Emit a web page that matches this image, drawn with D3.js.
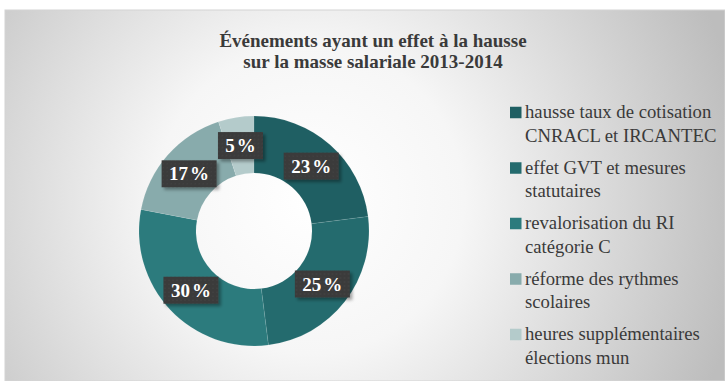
<!DOCTYPE html>
<html>
<head>
<meta charset="utf-8">
<script src="https://cdn.jsdelivr.net/npm/d3@7"></script>
<style>
  html, body { margin: 0; padding: 0; background: #ffffff; }
  svg { display: block; }
  .serif { font-family: "Liberation Serif"; }
</style>
</head>
<body>
<svg id="chart" width="725" height="381"></svg>
<script>
// Chart data
const categories = [
  ["hausse taux de cotisation", "CNRACL et IRCANTEC"],
  ["effet GVT et mesures", "statutaires"],
  ["revalorisation du RI", "catégorie C"],
  ["réforme des rythmes", "scolaires"],
  ["heures supplémentaires", "élections mun"]
];
const shares = [23, 25, 30, 17, 5];
const sliceColors = ["#1f5f63", "#246b6e", "#2c7b7d", "#88abac", "#b4cbcb"];
const titleLines = ["Événements ayant un effet à la hausse", "sur la masse salariale 2013-2014"];

const svg = d3.select("#chart");
const W = 725, H = 381;

// Panel background with soft radial shading
const defs = svg.append("defs");
const grad = defs.append("radialGradient")
  .attr("id", "panelGrad")
  .attr("gradientUnits", "userSpaceOnUse")
  .attr("cx", 310).attr("cy", 200).attr("r", 440);
grad.append("stop").attr("offset", "0%").attr("stop-color", "#ffffff");
grad.append("stop").attr("offset", "35%").attr("stop-color", "#f6f6f6");
grad.append("stop").attr("offset", "100%").attr("stop-color", "#bdbdbd");

const shadow = defs.append("filter").attr("id", "boxShadow")
  .attr("x", "-20%").attr("y", "-20%").attr("width", "150%").attr("height", "160%");
shadow.append("feDropShadow").attr("dx", 2.5).attr("dy", 2.5).attr("stdDeviation", 1.5)
  .attr("flood-color", "#000").attr("flood-opacity", 0.35);

const dots = defs.append("pattern").attr("id", "dots")
  .attr("width", 4).attr("height", 4).attr("patternUnits", "userSpaceOnUse");
dots.append("rect").attr("width", 4).attr("height", 4).attr("fill", "#3a3a3a");
dots.append("circle").attr("cx", 2).attr("cy", 2).attr("r", 0.7).attr("fill", "#484848");

svg.append("rect")
  .attr("x", 5).attr("y", 10).attr("width", W - 5).attr("height", H - 10)
  .attr("fill", "url(#panelGrad)")
  .attr("stroke", "#d4d4d4").attr("stroke-width", 1);

// Title
svg.append("text")
  .attr("class", "serif")
  .attr("text-anchor", "middle")
  .attr("font-weight", "bold")
  .attr("font-size", 19)
  .attr("fill", "#3a3a3a")
  .selectAll("tspan").data(titleLines).join("tspan")
  .attr("x", 373).attr("y", (d, i) => 46.5 + i * 21.7)
  .text(d => d);

// Donut
const cx = 254, cy = 231, rOuter = 115, rInner = 58;
const pie = d3.pie().sort(null).value(d => d);
const arcs = pie(shares);
const arc = d3.arc().innerRadius(rInner).outerRadius(rOuter);
const color = d3.scaleOrdinal().domain(d3.range(shares.length)).range(sliceColors);

const g = svg.append("g").attr("transform", `translate(${cx},${cy})`);
g.selectAll("path.slice").data(arcs).join("path")
  .attr("class", "slice")
  .attr("d", arc)
  .attr("fill", (d, i) => color(i))
  .attr("stroke", "rgba(255,255,255,0.15)")
  .attr("stroke-width", 0.6);

// Value labels on dark boxes at each slice centroid
const labels = g.selectAll("g.lbl").data(arcs).join("g")
  .attr("class", "lbl")
  .attr("transform", d => `translate(${arc.centroid(d)})`);
labels.append("rect")
  .attr("x", d => d.data < 10 ? -22.5 : -27.5)
  .attr("y", -13.5)
  .attr("width", d => d.data < 10 ? 45 : 55)
  .attr("height", 27)
  .attr("fill", "url(#dots)")
  .attr("filter", "url(#boxShadow)");
const lblText = labels.append("text")
  .attr("class", "serif")
  .attr("text-anchor", "middle")
  .attr("dy", "0.35em")
  .attr("font-weight", "bold")
  .attr("font-size", 19)
  .attr("fill", "#ffffff");
lblText.append("tspan").text(d => d.data);
lblText.append("tspan").attr("dx", 2).text("%");

// Legend
const legendX = 510, legendY = 112.5, itemGap = 55.5, lineGap = 23.3, sw = 11.5;
const legend = svg.append("g");
const items = legend.selectAll("g.item").data(categories).join("g")
  .attr("class", "item")
  .attr("transform", (d, i) => `translate(${legendX},${legendY + i * itemGap})`);
items.append("rect")
  .attr("x", 0).attr("y", -sw / 2).attr("width", sw).attr("height", sw)
  .attr("fill", (d, i) => color(i));
items.append("text")
  .attr("class", "serif")
  .attr("font-size", 18.7)
  .attr("fill", "#3a3a3a")
  .selectAll("tspan").data(d => d).join("tspan")
  .attr("x", 15)
  .attr("y", (d, i) => i * lineGap + 5.8)
  .text(d => d);
</script>
</body>
</html>
